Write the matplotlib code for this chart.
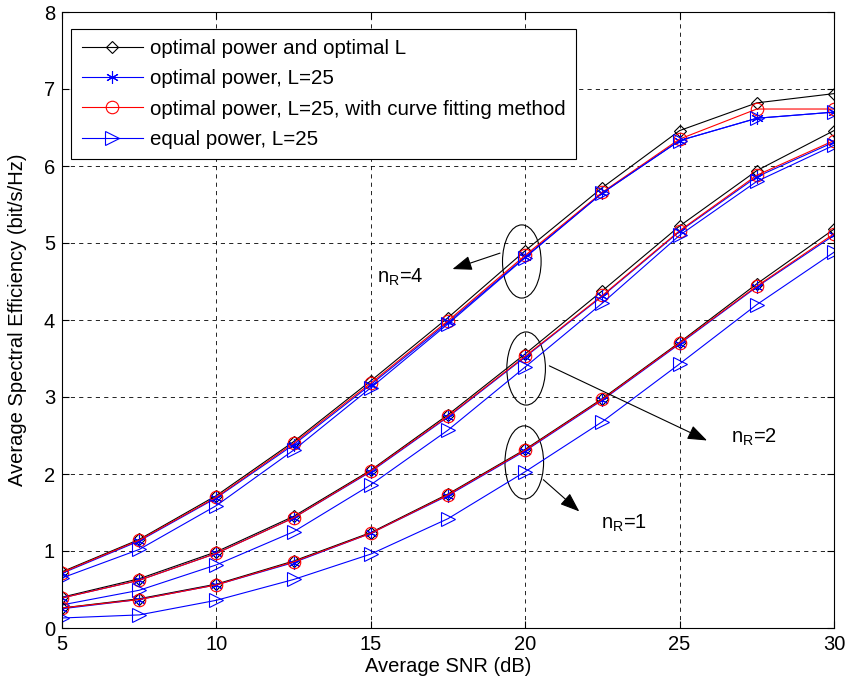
import matplotlib
matplotlib.use('Agg')
import matplotlib.pyplot as plt
from matplotlib.patches import Ellipse

plt.rcParams['font.family'] = ['Liberation Sans', 'DejaVu Sans']

# SNR points (dB)
snr = [5, 7.5, 10, 12.5, 15, 17.5, 20, 22.5, 25, 27.5, 30]

# nR = 4
opt4 = [0.73, 1.15, 1.72, 2.42, 3.21, 4.03, 4.90, 5.72, 6.46, 6.82, 6.94]
star4 = [0.71, 1.13, 1.69, 2.38, 3.16, 3.97, 4.82, 5.65, 6.33, 6.62, 6.70]
fit4 = [0.72, 1.14, 1.70, 2.40, 3.18, 3.99, 4.84, 5.66, 6.35, 6.74, 6.74]
eq4 = [0.65, 1.02, 1.59, 2.31, 3.12, 3.95, 4.81, 5.65, 6.33, 6.62, 6.70]

# nR = 2
opt2 = [0.40, 0.64, 0.99, 1.45, 2.05, 2.77, 3.56, 4.38, 5.22, 5.94, 6.46]
star2 = [0.39, 0.62, 0.97, 1.43, 2.03, 2.74, 3.52, 4.31, 5.15, 5.86, 6.31]
fit2 = [0.39, 0.62, 0.97, 1.43, 2.04, 2.75, 3.53, 4.32, 5.16, 5.88, 6.33]
eq2 = [0.30, 0.49, 0.82, 1.25, 1.86, 2.57, 3.39, 4.22, 5.10, 5.80, 6.27]

# nR = 1
opt1 = [0.26, 0.38, 0.57, 0.87, 1.24, 1.74, 2.32, 2.98, 3.71, 4.47, 5.18]
star1 = [0.25, 0.37, 0.56, 0.85, 1.23, 1.72, 2.30, 2.96, 3.69, 4.43, 5.10]
fit1 = [0.26, 0.37, 0.56, 0.86, 1.23, 1.73, 2.31, 2.97, 3.70, 4.44, 5.12]
eq1 = [0.13, 0.17, 0.36, 0.63, 0.96, 1.42, 2.03, 2.68, 3.43, 4.20, 4.88]

labels = ['optimal power and optimal L', 'optimal power, L=25',
          'optimal power, L=25, with curve fitting method', 'equal power, L=25']

fig = plt.figure(figsize=(8.47, 6.87), dpi=100)
ax = fig.add_axes([62/847, 59/687, 772/847, 616/687])

asterisk = (6, 2, 0)
styles = [
    dict(color='black', marker='D', ms=6.5, mfc='none', mew=0.8),
    dict(color='#0000ff', marker=asterisk, ms=9, mew=0.8),
    dict(color='#ff0000', marker='o', ms=9, mfc='none', mew=0.8),
    dict(color='#0000ff', marker='>', ms=9.5, mfc='none', mew=0.8),
]
groups = [(opt4, star4, fit4, eq4), (opt2, star2, fit2, eq2), (opt1, star1, fit1, eq1)]
for g, grp in enumerate(groups):
    for i, ys in enumerate(grp):
        ax.plot(snr, ys, lw=0.8, label=labels[i] if g == 0 else None, **styles[i])

ax.set_xlim(5, 30)
ax.set_ylim(0, 8)
ax.set_xticks([5, 10, 15, 20, 25, 30])
ax.set_yticks(range(0, 9))
ax.grid(True, color='black', linestyle=(0, (5, 5)), lw=0.6)
ax.tick_params(direction='in', top=True, right=True, labelsize=14.5, length=5, pad=5)
for s in ax.spines.values():
    s.set_linewidth(0.8)
ax.set_xlabel('Average SNR (dB)', fontsize=14.5, labelpad=2)
ax.set_ylabel('Average Spectral Efficiency (bit/s/Hz)', fontsize=14.5, labelpad=12)

leg = ax.legend(loc='upper left', bbox_to_anchor=(0.012, 0.973), borderaxespad=0,
                fontsize=14.8, fancybox=False, edgecolor='black', framealpha=1,
                handlelength=3.0, handletextpad=0.35, labelspacing=0.55, borderpad=0.5)
leg.get_frame().set_linewidth(0.8)

# ellipses around the 20 dB points
ell = [(19.89, 4.76), (20.03, 3.37), (19.97, 2.15)]
for cx, cy in ell:
    ax.add_patch(Ellipse((cx, cy), 1.25, 0.95, fill=False, color='black', lw=0.8))

arrow = dict(arrowstyle='-|>,head_length=1.2,head_width=0.45', color='black', lw=0.8)
ax.annotate('', xy=(17.56, 4.65), xytext=(19.27, 4.88), arrowprops=arrow)
ax.annotate('', xy=(25.97, 2.42), xytext=(20.70, 3.42), arrowprops=arrow)
ax.annotate('', xy=(21.82, 1.49), xytext=(20.52, 1.95), arrowprops=arrow)
ax.text(15.19, 4.55, r'n$_\mathregular{R}$=4', fontsize=14.5, va='center')
ax.text(26.68, 2.48, r'n$_\mathregular{R}$=2', fontsize=14.5, va='center')
ax.text(22.47, 1.36, r'n$_\mathregular{R}$=1', fontsize=14.5, va='center')

fig.savefig('out.png', dpi=100)
